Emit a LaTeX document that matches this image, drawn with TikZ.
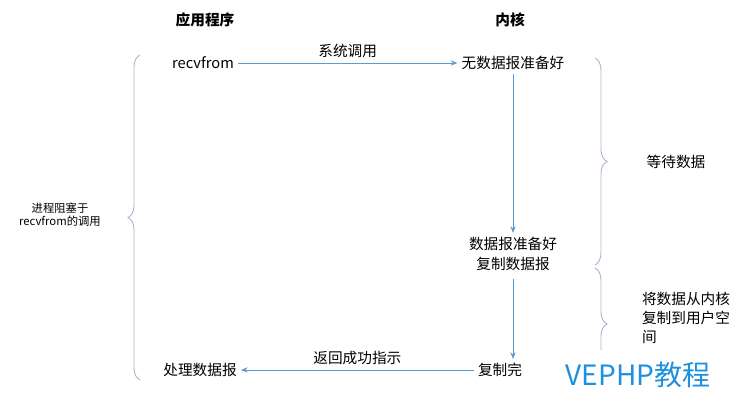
\documentclass[tikz,border=0pt]{standalone}
\usepackage{fontspec}
\setmainfont{Noto Sans CJK SC}
\usetikzlibrary{decorations.pathreplacing,arrows.meta}
\definecolor{arr}{HTML}{5B9BD5}
\definecolor{brc}{HTML}{A9B8D0}
\definecolor{wm}{HTML}{1E90E0}
\begin{document}
\begin{tikzpicture}[x=0.75pt,y=-0.75pt,
  txt/.style={font=\fontsize{11}{13}\selectfont,inner sep=3pt,text=black},
  hd/.style={font=\fontsize{11}{13}\selectfont\bfseries,inner sep=1pt},
  conn/.style={arr,-{Stealth[length=5pt,width=4pt]},line width=0.6pt},
  br/.style={brc,line width=0.7pt,decorate,decoration={brace,amplitude=9pt}}]
\useasboundingbox (0,0) rectangle (750,405);
\node[hd] (h1) at (205,20) {应用程序};
\node[hd] (h2) at (510,20) {内核};
\node[txt] (r) at (203,63) {recvfrom};
\node[txt] (k1) at (513,63) {无数据报准备好};
\node[txt] (k2) at (513,256) {\begin{tabular}{@{}c@{}}数据报准备好\\[2pt]复制数据报\end{tabular}};
\node[txt] (k3) at (500,370) {复制完};
\node[txt] (p) at (200,370) {处理数据报};
\draw[conn] (r) -- node[txt,above=1pt] {系统调用} (k1);
\draw[conn] (k1) -- (k2);
\draw[conn] (k2) -- (k3.north -| k2);
\draw[conn] (k3) -- node[txt,above=1pt] {返回成功指示} (p);
\coordinate (lb1) at (140,380); \coordinate (lb2) at (140,55);
\draw[br] (lb1) -- (lb2);
\node[txt,font=\fontsize{8.5}{10}\selectfont,align=center] (lt) at (60,215) {进程阻塞于\\recvfrom的调用};
\coordinate (rb1) at (595,58); \coordinate (rb2) at (595,265);
\draw[br] (rb1) -- (rb2);
\node[txt] (w) at (676,162) {等待数据};
\coordinate (rb3) at (595,268); \coordinate (rb4) at (595,380);
\draw[br] (rb3) -- (rb4);
\node[txt,align=left] (c) at (686,318) {将数据从内核\\[1pt]复制到用户空\\[1pt]间};
\fill[white] (557,350) rectangle (722,400);
\node[wm,font=\fontsize{21}{24}\selectfont,inner sep=0pt] (wmk) at (638,375) {VEPHP教程};
\end{tikzpicture}
\end{document}
